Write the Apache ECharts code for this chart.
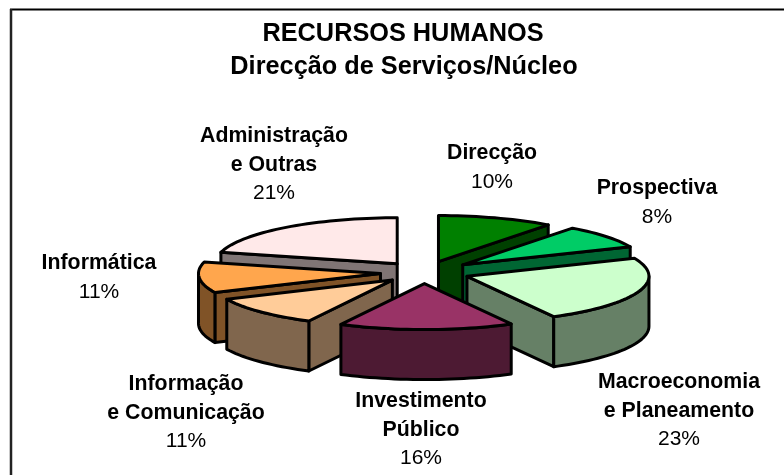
<!DOCTYPE html>
<html><head><meta charset="utf-8">
<style>html,body{margin:0;padding:0;background:#fff}#c{width:784px;height:475px}</style>
<script src="https://cdn.jsdelivr.net/npm/echarts@6/dist/echarts.min.js"></script>
</head><body><div id="c"></div>
<script>
const categories = ['Direcção','Prospectiva','Macroeconomia\ne Planeamento','Investimento\nPúblico','Informação\ne Comunicação','Informática','Administração\ne Outras'];
const values = [10.3, 8.3, 23.49, 15.5, 10.6, 10.8, 21.01];
const explosion = [0.25, 0.27, 0.25, 0.24, 0.24, 0.24, 0.24];
const topColors = ['#008000','#00CC66','#CCFFCC','#993366','#FFCC99','#FFA64D','#FFE9E9'];
const wallColors = ['#004000','#006633','#668066','#4D1A33','#80664D','#805327','#807575'];
const drawOrder = [0,6,1,5,2,4,3];
const labelCenters = [[492,153.5],[657,188.5],[679,382.5],[421,401.5],[186,384.5],[99,263.5],[274,136.5]];
const titleLines = ['RECURSOS HUMANOS','Direcção de Serviços/Núcleo'];

const CX=424, CY=272.5, RX=182, RY=46, DEPTH=50;
const total = values.reduce((a,b)=>a+b,0);
let acc=0;
const seriesData = values.map((v,i)=>{const s=acc; acc+=v; return [s/total*360, acc/total*360, i];});
const rad=d=>d*Math.PI/180;

function renderItem(params, api){
  const a0=api.value(0), a1=api.value(1), i=api.value(2);
  const mid=(a0+a1)/2, e=explosion[i];
  const ax=CX+e*RX*Math.sin(rad(mid)), ay=CY-e*RY*Math.cos(rad(mid));
  const rim=a=>[ax+RX*Math.sin(rad(a)), ay-RY*Math.cos(rad(a))];
  const down=p=>[p[0],p[1]+DEPTH];
  const z=drawOrder.indexOf(i)*10;
  const base={stroke:'#000',lineWidth:3,lineJoin:'round'};
  const children=[];
  const wall=(pts,k)=>children.push({type:'polygon',z2:z+k,shape:{points:pts},style:Object.assign({fill:wallColors[i]},base)});
  const ap=[ax,ay];
  if(Math.sin(rad(a0))<0) wall([ap,rim(a0),down(rim(a0)),down(ap)],0);
  if(Math.sin(rad(a1))>0) wall([ap,rim(a1),down(rim(a1)),down(ap)],1);
  const from=Math.max(a0,90), to=Math.min(a1,270);
  if(to>from){
    const up=[],lo=[];
    for(let a=from;a<to;a+=2){up.push(rim(a));}
    up.push(rim(to));
    up.forEach(p=>lo.unshift(down(p)));
    wall(up.concat(lo),2);
  }
  const t=[ap];
  for(let a=a0;a<a1;a+=2)t.push(rim(a));
  t.push(rim(a1));
  children.push({type:'polygon',z2:z+3,shape:{points:t},style:Object.assign({fill:topColors[i]},base)});
  const lines=categories[i].split('\n');
  const c=labelCenters[i], LH=28.5;
  lines.forEach((ln,k)=>children.push({type:'text',z2:200,style:{text:ln,x:c[0],y:c[1]+k*LH,align:'center',verticalAlign:'middle',font:'bold 21.3px "Liberation Sans"',fill:'#000'}}));
  children.push({type:'text',z2:200,style:{text:Math.round(values[i]/total*100)+'%',x:c[0],y:c[1]+lines.length*LH,align:'center',verticalAlign:'middle',font:'21px "Liberation Sans"',fill:'#000'}});
  return {type:'group',children};
}

const chart=echarts.init(document.getElementById('c'),null,{renderer:'canvas'});
chart.setOption({
  animation:false,
  backgroundColor:'#fff',
  graphic:[
    {type:'line',z:1,shape:{x1:10,y1:9.5,x2:784,y2:9.5},style:{stroke:'#000',lineWidth:2}},
    {type:'line',z:1,shape:{x1:11,y1:9,x2:11,y2:475},style:{stroke:'#222',lineWidth:2.5}},
    {type:'text',z:5,style:{text:titleLines[0],x:403,y:34.5,align:'center',verticalAlign:'middle',font:'bold 25.3px "Liberation Sans"',fill:'#000'}},
    {type:'text',z:5,style:{text:titleLines[1],x:404,y:67.5,align:'center',verticalAlign:'middle',font:'bold 25.3px "Liberation Sans"',fill:'#000'}}
  ],
  series:[{type:'custom',coordinateSystem:'none',renderItem,data:seriesData,silent:true,z:2}]
});
</script></body></html>
